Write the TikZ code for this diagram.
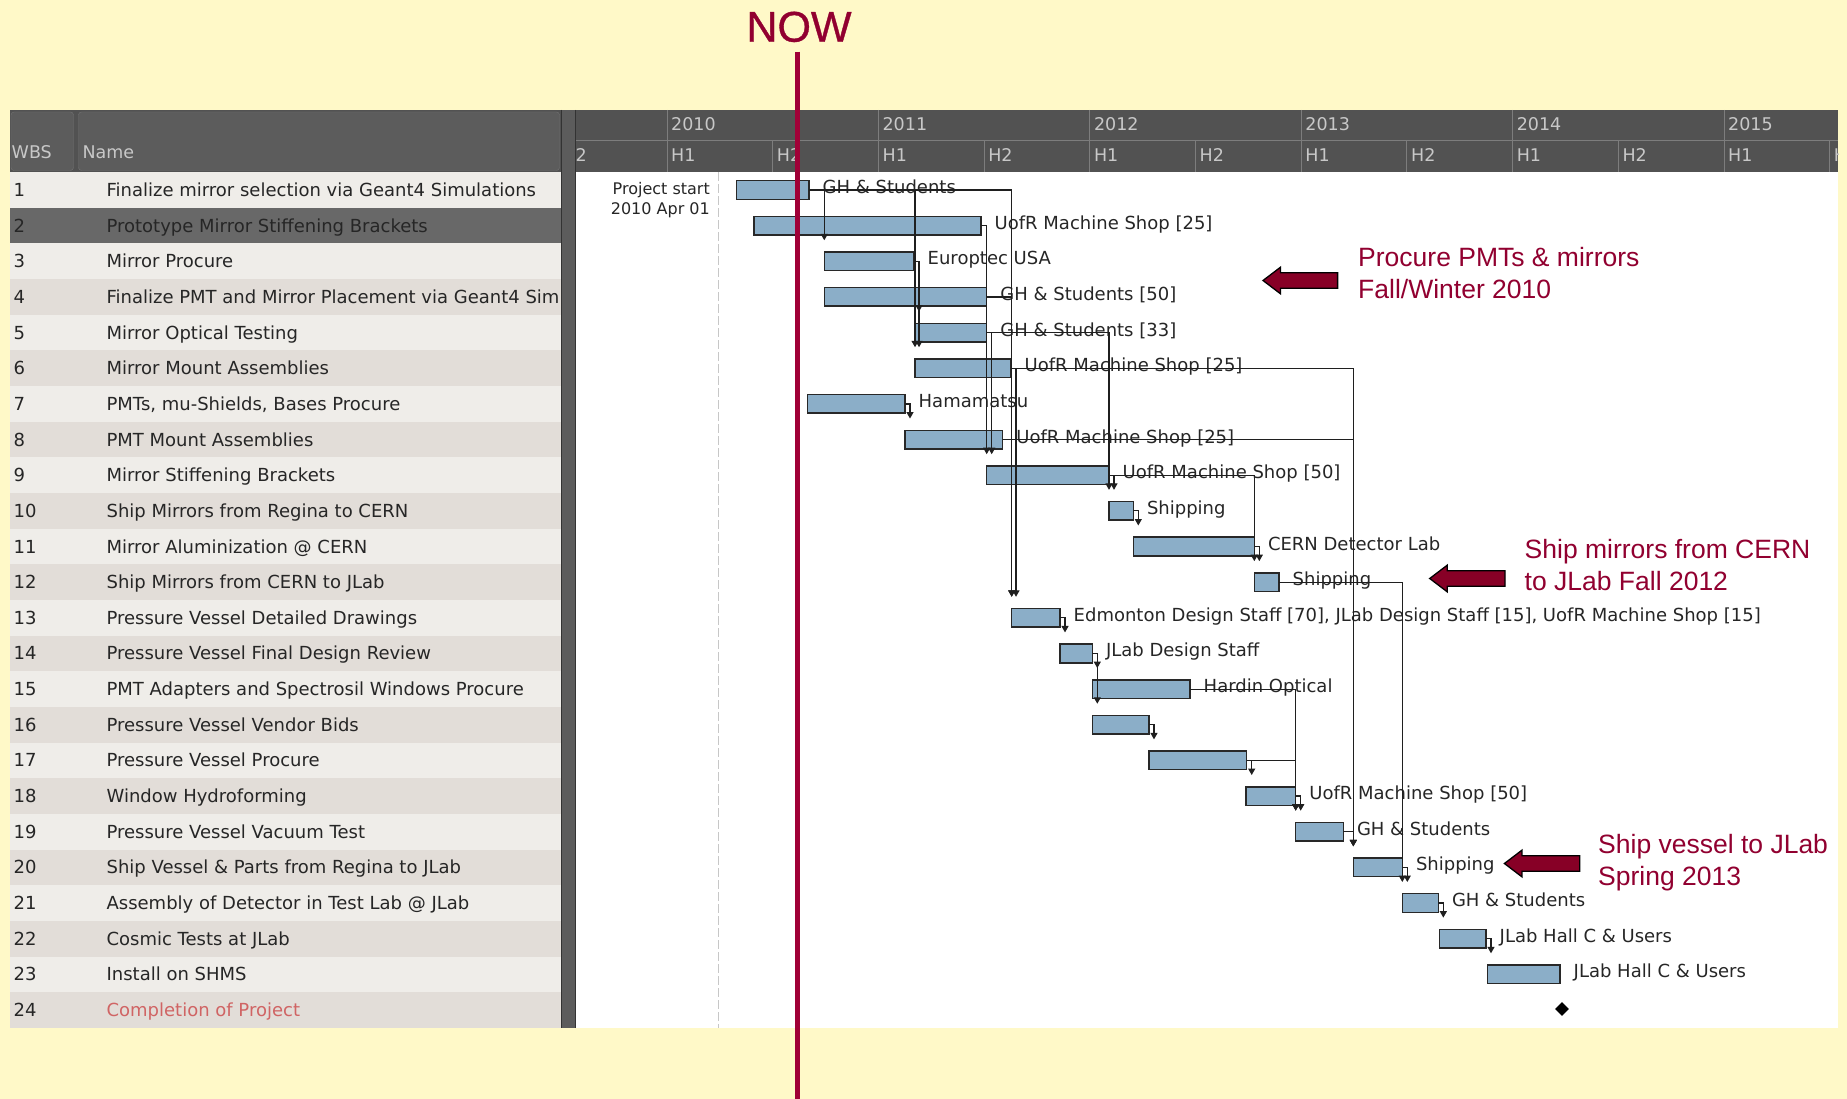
\documentclass[tikz,border=0pt]{standalone}
\usepackage{fontspec}
\usetikzlibrary{arrows.meta,shapes.geometric,calc}
\newfontfamily\planfont{DejaVu Sans}
\newfontfamily\arialfont{Liberation Sans}
\newfontfamily\nowfont[FakeBold=0.8]{Liberation Sans}
\definecolor{bgyellow}{RGB}{255,249,200}
\definecolor{hdr}{RGB}{82,82,82}
\definecolor{hdrpanel}{RGB}{92,92,92}
\definecolor{hdrline}{RGB}{125,125,125}
\definecolor{hdrtext}{RGB}{200,200,200}
\definecolor{rowlight}{RGB}{239,237,233}
\definecolor{rowdark}{RGB}{226,221,216}
\definecolor{rowsel}{RGB}{104,104,104}
\definecolor{barfill}{RGB}{139,174,200}
\definecolor{barline}{RGB}{40,40,40}
\definecolor{maroontxt}{RGB}{145,0,48}
\definecolor{arrowred}{RGB}{135,0,38}
\definecolor{nowred}{RGB}{160,0,55}
\definecolor{pinkred}{RGB}{208,100,100}
\newcommand\gbar[4]{\node[bar, minimum width={(#3)-(#2)}] (#1) at (#2,{190+(#4-1)*35.65}) {};}
\newcommand\glbl[3]{\node[lbl] (#1) at ([xshift=13.5pt,yshift=-3.5pt]#2.east) {#3};}
\begin{document}
\begin{tikzpicture}[x=1pt,y=-1pt,
  bar/.style={draw=barline, fill=barfill, line width=1.5pt, inner sep=0pt, outer sep=0pt, minimum height=18.6pt, anchor=west},
  lbl/.style={font=\planfont\fontsize{18}{21}\selectfont, text=black!85, inner sep=0pt, anchor=base west},
  rowtxt/.style={font=\planfont\fontsize{18}{21}\selectfont, text=black!85, inner sep=0pt, anchor=base west},
  hdrtxt/.style={font=\planfont\fontsize{17.5}{21}\selectfont, text=hdrtext, inner sep=0pt, anchor=base west},
  conn/.style={draw=black!88, line width=1.2pt, -{Triangle[width=7pt,length=6.5pt]}},
  callout/.style={text=maroontxt, font=\arialfont\fontsize{26.5}{31.7}\selectfont, inner sep=0pt, anchor=base west},
  pointer/.style={fill=arrowred, draw=black, line width=1.3pt, line join=miter}]
\useasboundingbox (0,0) rectangle (1847,1099);
\fill[bgyellow] (0,0) rectangle (1847,1099);

% ---------- table ----------
\fill[hdr] (9.6,110) rectangle (561,172.2);
\filldraw[fill=hdrpanel, draw=black!55, rounded corners=3pt] (11,112) rectangle (73.5,170.5);
\filldraw[fill=hdrpanel, draw=black!55, rounded corners=3pt] (78.5,112) rectangle (559.5,170.5);
\node[hdrtxt] (hwbs) at (11.5,159) {WBS};
\node[hdrtxt] (hname) at (82.3,159) {Name};
\foreach \i in {1,...,24}{
  \pgfmathtruncatemacro\odd{mod(\i,2)}
  \ifnum\i=2 \def\rc{rowsel}\else\ifnum\odd=1 \def\rc{rowlight}\else\def\rc{rowdark}\fi\fi
  \fill[\rc] (9.6,{172.2+(\i-1)*35.65}) rectangle (561,{172.2+\i*35.65});
}
\begin{scope}
\clip (9.6,110) rectangle (560,1028);
\foreach \i/\t in {1/Finalize mirror selection via Geant4 Simulations, 2/Prototype Mirror Stiffening Brackets, 3/Mirror Procure, 4/Finalize PMT and Mirror Placement via Geant4 Sim, 5/Mirror Optical Testing, 6/Mirror Mount Assemblies, 7/{PMTs, mu-Shields, Bases Procure}, 8/PMT Mount Assemblies, 9/Mirror Stiffening Brackets, 10/Ship Mirrors from Regina to CERN, 11/Mirror Aluminization @ CERN, 12/Ship Mirrors from CERN to JLab, 13/Pressure Vessel Detailed Drawings, 14/Pressure Vessel Final Design Review, 15/PMT Adapters and Spectrosil Windows Procure, 16/Pressure Vessel Vendor Bids, 17/Pressure Vessel Procure, 18/Window Hydroforming, 19/Pressure Vessel Vacuum Test, 20/Ship Vessel \& Parts from Regina to JLab, 21/Assembly of Detector in Test Lab @ JLab, 22/Cosmic Tests at JLab, 23/Install on SHMS}
{
  \node[rowtxt] (n\i) at (13.4,{196.5+(\i-1)*35.65}) {\i};
  \node[rowtxt] (t\i) at (106.4,{196.5+(\i-1)*35.65}) {\t};
}
\node[rowtxt] (n24) at (13.4,{196.5+23*35.65}) {24};
\node[rowtxt, text=pinkred] (t24) at (106.4,{196.5+23*35.65}) {Completion of Project};
\end{scope}

% ---------- splitter ----------
\fill[black!64] (561,110) rectangle (576,1027.8);
\draw[black!80, line width=1pt] (561.5,110) -- (561.5,1027.8);
\draw[black!80, line width=1pt] (575.5,110) -- (575.5,1027.8);

% ---------- gantt header ----------
\fill[hdr] (576,110) rectangle (1838,172.2);
\fill[white] (576,172.2) rectangle (1838,1027.8);
\begin{scope}
\clip (576,110) rectangle (1838,172.2);
\foreach \k [count=\c] in {0,...,5}{
  \pgfmathsetmacro\xx{667+211.4*\k}
  \pgfmathtruncatemacro\yr{2010+\k}
  \draw[hdrline, line width=1pt] (\xx,110) -- (\xx,172.2);
  \node[hdrtxt] (yr\c) at (\xx+4,130.5) {\yr};
  \node[hdrtxt] (ha\c) at (\xx+4,161.5) {H1};
}
\foreach \k [count=\c] in {0,...,5}{
  \pgfmathsetmacro\xb{667+211.4*\k+105.7}
  \draw[hdrline, line width=1pt] (\xb,140.7) -- (\xb,172.2);
  \node[hdrtxt] (hb\c) at (\xb+4,161.5) {H2};
}
\node[hdrtxt] (hb0) at (562.3,161.5) {H2};
\draw[hdrline, line width=1pt] (576,140.7) -- (1838,140.7);
\end{scope}

% ---------- project start ----------
\draw[black!22, line width=1.2pt, dash pattern=on 9pt off 3pt] (718.5,172.2) -- (718.5,1027.8);
\node[font=\planfont\fontsize{16}{19}\selectfont, text=black!85, inner sep=0pt, anchor=base east] (ps1) at (710,194.5) {Project start};
\node[font=\planfont\fontsize{16}{19}\selectfont, text=black!85, inner sep=0pt, anchor=base east] (ps2) at (710,214.5) {2010 Apr 01};

% ---------- bars ----------
\gbar{b1}{736.7}{809}{1}
\gbar{b2}{754}{981}{2}
\gbar{b3}{824.3}{914}{3}
\gbar{b4}{824.3}{986.7}{4}
\gbar{b5}{915}{986.7}{5}
\gbar{b6}{915}{1011}{6}
\gbar{b7}{807.3}{905}{7}
\gbar{b8}{905}{1002.7}{8}
\gbar{b9}{986.7}{1109}{9}
\gbar{b10}{1109}{1133.3}{10}
\gbar{b11}{1133.3}{1254.3}{11}
\gbar{b12}{1254.3}{1279}{12}
\gbar{b13}{1011.7}{1060}{13}
\gbar{b14}{1060}{1092.3}{14}
\gbar{b15}{1092.3}{1190}{15}
\gbar{b16}{1092.3}{1149}{16}
\gbar{b17}{1149}{1246.7}{17}
\gbar{b18}{1246}{1295.7}{18}
\gbar{b19}{1295.7}{1343.3}{19}
\gbar{b20}{1353.3}{1402.3}{20}
\gbar{b21}{1402.3}{1438.3}{21}
\gbar{b22}{1439.4}{1486}{22}
\gbar{b23}{1487.5}{1560}{23}
\node[diamond, fill=black, inner sep=0pt, minimum width=14pt, minimum height=14pt] (m24) at (1562,1009) {};

% ---------- bar labels ----------
\glbl{l1}{b1}{GH \& Students}
\glbl{l2}{b2}{UofR Machine Shop [25]}
\glbl{l3}{b3}{Europtec USA}
\glbl{l4}{b4}{GH \& Students [50]}
\glbl{l5}{b5}{GH \& Students [33]}
\glbl{l6}{b6}{UofR Machine Shop [25]}
\glbl{l7}{b7}{Hamamatsu}
\glbl{l8}{b8}{UofR Machine Shop [25]}
\glbl{l9}{b9}{UofR Machine Shop [50]}
\glbl{l10}{b10}{Shipping}
\glbl{l11}{b11}{CERN Detector Lab}
\glbl{l12}{b12}{Shipping}
\glbl{l13}{b13}{Edmonton Design Staff [70], JLab Design Staff [15], UofR Machine Shop [15]}
\glbl{l14}{b14}{JLab Design Staff}
\glbl{l15}{b15}{Hardin Optical}
\glbl{l18}{b18}{UofR Machine Shop [50]}
\glbl{l19}{b19}{GH \& Students}
\glbl{l20}{b20}{Shipping}
\glbl{l21}{b21}{GH \& Students}
\glbl{l22}{b22}{JLab Hall C \& Users}
\glbl{l23}{b23}{JLab Hall C \& Users}

% ---------- dependency connectors ----------
\draw[conn] (b1.east) -| ([yshift=11.7pt]b3.north west);
\draw[conn] (b1.east) -| ([yshift=11.7pt]b6.north west);
\draw[conn] (b1.east) -| ([yshift=11.7pt]b13.north west);
\draw[conn] (b2.east) -| ([yshift=11.7pt]b9.north west);
\draw[conn] (b4.east) -| ([yshift=11.7pt]b13.north west);
\draw[conn] (b5.east) -| ([yshift=11.7pt]b10.north west);
\draw[conn] (b6.east) -| ([yshift=11.7pt]b20.north west);
\draw[conn] (b8.east) -| ([yshift=11.7pt]b20.north west);
\draw[conn] (b9.east) -| ([yshift=11.7pt]b12.north west);
\draw[conn] (b12.east) -| ([yshift=11.7pt]b21.north west);
\draw[conn] (b15.east) -| ([yshift=11.7pt]b19.north west);
\draw[conn] (b17.east) -| ([yshift=11.7pt]b19.north west);
\draw[conn] (b19.east) -| ([yshift=11.7pt]b20.north west);
\draw[conn] (b3.east) -- ++(5,0) -- ([xshift=5pt,yshift=11.7pt]b3.east |- b5.north);
\draw[conn] (b3.east) -- ++(5,0) -- ([xshift=5pt,yshift=11.7pt]b3.east |- b6.north);
\draw[conn] (b5.east) -- ++(5,0) -- ([xshift=5pt,yshift=11.7pt]b5.east |- b9.north);
\draw[conn] (b6.east) -- ++(5,0) -- ([xshift=5pt,yshift=11.7pt]b6.east |- b13.north);
\draw[conn] (b7.east) -- ++(5,0) -- ([xshift=5pt,yshift=11.7pt]b7.east |- b8.north);
\draw[conn] (b9.east) -- ++(5,0) -- ([xshift=5pt,yshift=11.7pt]b9.east |- b10.north);
\draw[conn] (b10.east) -- ++(5,0) -- ([xshift=5pt,yshift=11.7pt]b10.east |- b11.north);
\draw[conn] (b11.east) -- ++(5,0) -- ([xshift=5pt,yshift=11.7pt]b11.east |- b12.north);
\draw[conn] (b13.east) -- ++(5,0) -- ([xshift=5pt,yshift=11.7pt]b13.east |- b14.north);
\draw[conn] (b14.east) -- ++(5,0) -- ([xshift=5pt,yshift=11.7pt]b14.east |- b15.north);
\draw[conn] (b14.east) -- ++(5,0) -- ([xshift=5pt,yshift=11.7pt]b14.east |- b16.north);
\draw[conn] (b16.east) -- ++(5,0) -- ([xshift=5pt,yshift=11.7pt]b16.east |- b17.north);
\draw[conn] (b17.east) -- ++(5,0) -- ([xshift=5pt,yshift=11.7pt]b17.east |- b18.north);
\draw[conn] (b18.east) -- ++(5,0) -- ([xshift=5pt,yshift=11.7pt]b18.east |- b19.north);
\draw[conn] (b20.east) -- ++(5,0) -- ([xshift=5pt,yshift=11.7pt]b20.east |- b21.north);
\draw[conn] (b21.east) -- ++(5,0) -- ([xshift=5pt,yshift=11.7pt]b21.east |- b22.north);
\draw[conn] (b22.east) -- ++(5,0) -- ([xshift=5pt,yshift=11.7pt]b22.east |- b23.north);

% ---------- callouts ----------
\filldraw[pointer] (1263,280.5) -- (1280.5,267.2) -- (1280.5,272.7) -- (1337.6,272.7) -- (1337.6,288.3) -- (1280.5,288.3) -- (1280.5,293.8) -- cycle;
\node[callout] (c1a) at (1358,266.7) {Procure PMTs \& mirrors};
\node[callout] (c1b) at (1358,298.3) {Fall/Winter 2010};
\filldraw[pointer] (1429.7,578.5) -- (1447.2,565.2) -- (1447.2,570.7) -- (1505,570.7) -- (1505,586.3) -- (1447.2,586.3) -- (1447.2,591.8) -- cycle;
\node[callout] (c2a) at (1524.5,558.3) {Ship mirrors from CERN};
\node[callout] (c2b) at (1524.5,590) {to JLab Fall 2012};
\filldraw[pointer] (1504.4,863.5) -- (1521.9,850.2) -- (1521.9,855.7) -- (1579.8,855.7) -- (1579.8,871.3) -- (1521.9,871.3) -- (1521.9,876.8) -- cycle;
\node[callout] (c3a) at (1598,853.3) {Ship vessel to JLab};
\node[callout] (c3b) at (1598,885) {Spring 2013};

% ---------- NOW marker ----------
\node[text=maroontxt, font=\nowfont\fontsize{43}{48}\selectfont, inner sep=0pt, anchor=base] (now) at (799,41.7) {NOW};
\coordinate (nowtop) at (797,51.7);
\coordinate (nowbot) at (797,1099);
\draw[nowred, line width=5pt] (nowtop) -- (nowbot);
\end{tikzpicture}
\end{document}
